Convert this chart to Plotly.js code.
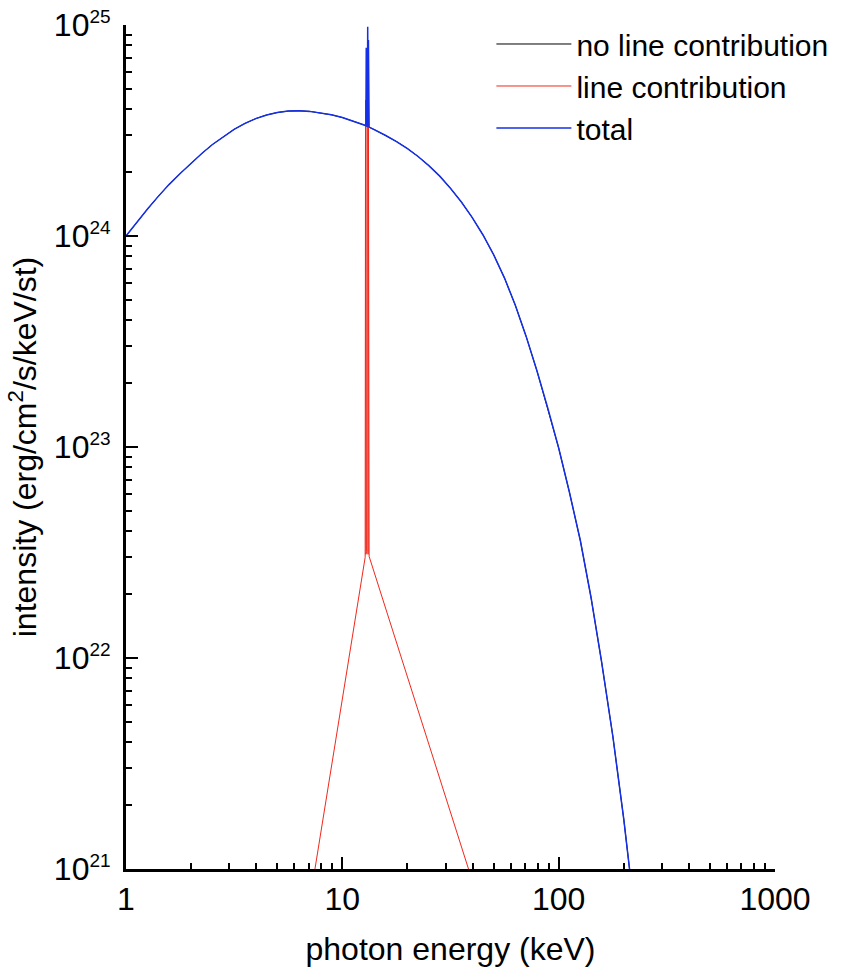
<!DOCTYPE html>
<html>
<head>
<meta charset="utf-8">
<script src="https://cdn.plot.ly/plotly-3.0.1.min.js"></script>
<style>html,body{margin:0;padding:0;background:#fff;}</style>
</head>
<body>
<div id="chart" style="width:857px;height:978px;"></div>
<script>
// Continuum (no line contribution): photon energy (keV) and intensity (erg/cm^2/s/keV/st)
const contEnergy = [1, 1.12, 1.26, 1.41, 1.58, 1.78, 2.0, 2.24, 2.51, 2.82, 3.16, 3.55, 3.98, 4.47, 5.01, 5.62, 6.31, 7.08, 7.94, 8.91, 10, 11.2, 12.6, 14.1, 15.8, 17.8, 20, 22.4, 25.1, 28.2, 31.6, 35.5, 39.8, 44.7, 50.1, 56.2, 63.1, 70.8, 79.4, 89.1, 100, 112, 126, 141, 158, 178, 200, 224, 251];
const contIntensity = [1.000e24, 1.164e24, 1.345e24, 1.541e24, 1.752e24, 1.977e24, 2.213e24, 2.460e24, 2.714e24, 2.965e24, 3.203e24, 3.418e24, 3.601e24, 3.748e24, 3.850e24, 3.908e24, 3.922e24, 3.896e24, 3.837e24, 3.751e24, 3.643e24, 3.513e24, 3.361e24, 3.189e24, 3.002e24, 2.804e24, 2.597e24, 2.382e24, 2.156e24, 1.922e24, 1.685e24, 1.450e24, 1.225e24, 1.011e24, 8.139e23, 6.318e23, 4.683e23, 3.334e23, 2.294e23, 1.529e23, 9.897e22, 6.138e22, 3.594e22, 1.946e22, 9.561e21, 4.258e21, 1.720e21, 6.298e20, 2.092e20];

// Line contribution
const lineEnergy = [7.2, 12.7, 12.75, 12.8, 12.85, 12.9, 12.95, 13.0, 13.05, 13.1, 13.15, 13.2, 13.3, 40];
const lineIntensity = [7.9e20, 2.83e22, 3.0e22, 4.4e24, 3.1e22, 4.4e24, 3.2e22, 5.7e24, 3.2e22, 6.5e24, 3.1e22, 5.2e24, 3.03e22, 8.7e20];

// Total (continuum + line)
const totalEnergy = [1, 1.12, 1.26, 1.41, 1.58, 1.78, 2.0, 2.24, 2.51, 2.82, 3.16, 3.55, 3.98, 4.47, 5.01, 5.62, 6.31, 7.08, 7.94, 8.91, 10, 11.2, 12.6, 12.75, 12.8, 12.85, 12.9, 12.95, 13.0, 13.05, 13.1, 13.15, 13.2, 13.3, 14.1, 15.8, 17.8, 20, 22.4, 25.1, 28.2, 31.6, 35.5, 39.8, 44.7, 50.1, 56.2, 63.1, 70.8, 79.4, 89.1, 100, 112, 126, 141, 158, 178, 200, 224, 251];
const totalIntensity = [1.000e24, 1.164e24, 1.345e24, 1.541e24, 1.752e24, 1.977e24, 2.213e24, 2.460e24, 2.714e24, 2.965e24, 3.203e24, 3.418e24, 3.601e24, 3.748e24, 3.850e24, 3.908e24, 3.922e24, 3.896e24, 3.837e24, 3.751e24, 3.643e24, 3.513e24, 3.361e24, 3.34e24, 7.8e24, 3.33e24, 7.8e24, 3.32e24, 9.0e24, 3.31e24, 9.8e24, 3.30e24, 8.5e24, 3.28e24, 3.189e24, 3.002e24, 2.804e24, 2.597e24, 2.382e24, 2.156e24, 1.922e24, 1.685e24, 1.450e24, 1.225e24, 1.011e24, 8.139e23, 6.318e23, 4.683e23, 3.334e23, 2.294e23, 1.529e23, 9.897e22, 6.138e22, 3.594e22, 1.946e22, 9.561e21, 4.258e21, 1.720e21, 6.298e20, 2.092e20];

const seriesNames = ['no line contribution', 'line contribution', 'total'];

const xTickVals = [1, 10, 100, 1000];
const xTickText = ['1', '10', '100', '1000'];
const yTickVals = [1e21, 1e22, 1e23, 1e24, 1e25];
const yExponents = ['21', '22', '23', '24', '25'];
const yTickText = yExponents.map(e => '10<sup><span style="font-size:19px">' + e + '</span></sup>');

function minorVals(lo, hi) {
  const v = [];
  for (let d = lo; d < hi; d++) {
    for (let k = 2; k <= 9; k++) v.push(k * Math.pow(10, d));
  }
  return v;
}

const FONT = 'Liberation Sans, Arial, Helvetica, sans-serif';

const traces = [
  {x: contEnergy, y: contIntensity, name: seriesNames[0], mode: 'lines',
   line: {color: '#000000', width: 1}},
  {x: lineEnergy, y: lineIntensity, name: seriesNames[1], mode: 'lines',
   line: {color: '#f0281c', width: 1}},
  {x: totalEnergy, y: totalIntensity, name: seriesNames[2], mode: 'lines',
   line: {color: '#1530e6', width: 1.5}}
];

const axisCommon = {
  type: 'log', showline: true, linecolor: '#000', linewidth: 3,
  ticks: 'inside', ticklen: 12, tickwidth: 2, tickcolor: '#000',
  showgrid: false, zeroline: false, mirror: false,
  tickfont: {family: FONT, size: 32, color: '#000'}
};

const layout = {
  width: 857, height: 978,
  margin: {l: 126, r: 82, t: 25, b: 109, pad: 0},
  paper_bgcolor: '#fff', plot_bgcolor: '#fff',
  font: {family: FONT, color: '#000'},
  showlegend: true,
  legend: {x: 0.563, y: 1.0083, xanchor: 'left', yanchor: 'top', traceorder: 'normal',
           itemwidth: 75, bgcolor: 'rgba(0,0,0,0)',
           font: {family: FONT, size: 30, color: '#000'}},
  xaxis: Object.assign({}, axisCommon, {
    range: [0, 3], tickmode: 'array', tickvals: xTickVals, ticktext: xTickText,
    minor: {tickmode: 'array', tickvals: minorVals(0, 3), ticks: 'inside', ticklen: 6, tickwidth: 2, tickcolor: '#000', showgrid: false},
    title: {text: 'photon energy (keV)', font: {family: FONT, size: 32, color: '#000'}, standoff: 22}
  }),
  yaxis: Object.assign({}, axisCommon, {
    range: [21, 25], tickmode: 'array', tickvals: yTickVals, ticktext: yTickText,
    ticklabelstandoff: 6,
    minor: {tickmode: 'array', tickvals: minorVals(21, 25), ticks: 'inside', ticklen: 6, tickwidth: 2, tickcolor: '#000', showgrid: false},
    title: {text: 'intensity (erg/cm<sup>2</sup>/s/keV/st)', font: {family: FONT, size: 32, color: '#000'}, standoff: 8}
  })
};

Plotly.newPlot('chart', traces, layout, {displayModeBar: false, staticPlot: true});
</script>
</body>
</html>
